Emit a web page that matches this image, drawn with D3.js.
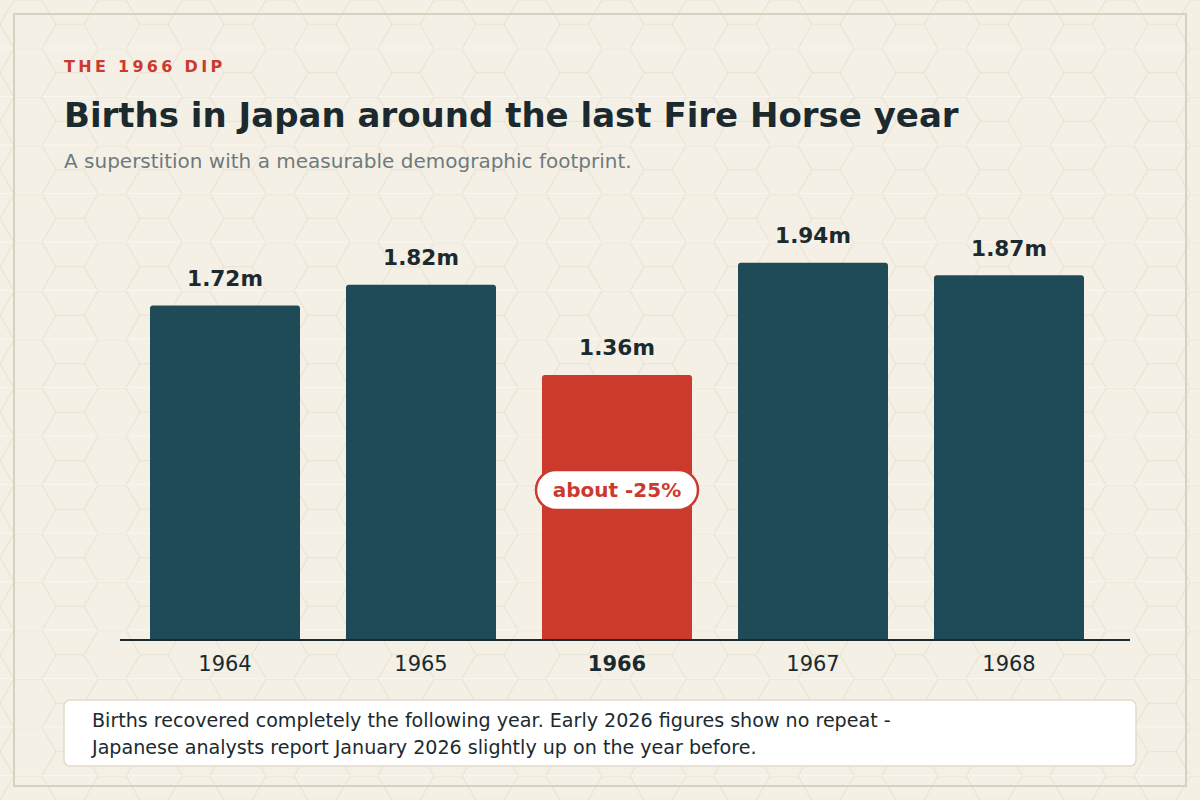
<!DOCTYPE html>
<html><head><meta charset="utf-8">
<script src="https://cdn.jsdelivr.net/npm/d3@7"></script>
<style>
html,body{margin:0;padding:0;background:#f5f0e6;}
svg{display:block;font-family:"DejaVu Sans",sans-serif;}
</style></head>
<body>
<svg id="c" width="1200" height="800"></svg>
<script>
const years = ["1964","1965","1966","1967","1968"];
const births = [1.717, 1.824, 1.361, 1.936, 1.872];
const highlightYear = "1966";
const kicker = "THE 1966 DIP";
const title = "Births in Japan around the last Fire Horse year";
const subtitle = "A superstition with a measurable demographic footprint.";
const annotation = "about -25%";
const noteLines = ["Births recovered completely the following year. Early 2026 figures show no repeat -",
  "Japanese analysts report January 2026 slightly up on the year before."];

const svg = d3.select("#c");
const W = 1200, H = 800;
const ink = "#1b2a2f", teal = "#1f4a57", red = "#cc3a2e";

// background pattern
const defs = svg.append("defs");
const s = 28, h = Math.sqrt(3) * s;
const pat = defs.append("pattern").attr("id","hex").attr("patternUnits","userSpaceOnUse")
  .attr("width", 3*s).attr("height", h);
pat.append("rect").attr("width",3*s).attr("height",h).attr("fill","#f5f0e6");
pat.append("path")
  .attr("d", `M0,${h/2} L${s/2},0 L${1.5*s},0 L${2*s},${h/2} L${1.5*s},${h} L${s/2},${h} Z M${2*s},${h/2} L${3*s},${h/2}`)
  .attr("fill","none").attr("stroke","#e9e2d3").attr("stroke-width",1);
pat.append("line").attr("x1",0).attr("x2",3*s).attr("y1",h).attr("y2",h)
  .attr("stroke","#ffffff").attr("stroke-opacity",0.8).attr("stroke-width",1.2);
svg.append("rect").attr("width",W).attr("height",H).attr("fill","url(#hex)");

// frame
svg.append("rect").attr("x",14).attr("y",14).attr("width",1172).attr("height",772)
  .attr("fill","none").attr("stroke","#d9d1bf").attr("stroke-width",2);

// header
svg.append("text").attr("x",64).attr("y",72).text(kicker)
  .attr("fill",red).attr("font-size",16).attr("font-weight","bold").attr("letter-spacing",3.3);
svg.append("text").attr("x",64).attr("y",127).text(title)
  .attr("fill",ink).attr("font-size",34).attr("font-weight","bold");
svg.append("text").attr("x",64).attr("y",168).text(subtitle)
  .attr("fill","#6f7a7d").attr("font-size",20);

// scales
const x = d3.scaleBand().domain(years).range([127,1107])
  .paddingInner(46/196).paddingOuter(23/196);
const y = d3.scaleLinear().domain([0,2]).range([640,250.4]);

const data = years.map((yr,i)=>({year:yr, v:births[i]}));
const r = 3;
function barPath(d){
  const x0 = x(d.year), x1 = x0 + x.bandwidth(), y0 = y(d.v), yb = y(0);
  return `M${x0},${yb} L${x0},${y0+r} Q${x0},${y0} ${x0+r},${y0} L${x1-r},${y0} Q${x1},${y0} ${x1},${y0+r} L${x1},${yb} Z`;
}
svg.append("g").selectAll("path").data(data).join("path")
  .attr("d", barPath)
  .attr("fill", d => d.year===highlightYear ? red : teal);

svg.append("g").selectAll("text").data(data).join("text")
  .attr("x", d => x(d.year)+x.bandwidth()/2)
  .attr("y", d => y(d.v)-19.5)
  .attr("text-anchor","middle").attr("font-size",21.6).attr("font-weight","bold").attr("fill",ink)
  .text(d => d3.format(".2f")(d.v)+"m");

// axis
const axis = svg.append("g").attr("transform","translate(0,640)")
  .call(d3.axisBottom(x).tickSize(0).tickPadding(16.5));
axis.select(".domain").remove();
axis.append("line").attr("x1",120).attr("x2",1130).attr("stroke",ink).attr("stroke-width",2);
axis.selectAll(".tick text")
  .attr("font-family","DejaVu Sans, sans-serif").attr("font-size",21).attr("fill",ink)
  .attr("font-weight", d => d===highlightYear ? "bold" : "normal")
  .attr("dy","0.71em");

// annotation pill
const hx = x(highlightYear) + x.bandwidth()/2, hy = 490;
svg.append("rect").attr("x",hx-81).attr("y",hy-20).attr("width",162).attr("height",40).attr("rx",20)
  .attr("fill","#ffffff").attr("stroke",red).attr("stroke-width",2.5);
svg.append("text").attr("x",hx).attr("y",hy+7).attr("text-anchor","middle")
  .attr("font-size",20).attr("font-weight","bold").attr("fill",red).text(annotation);

// note box
svg.append("rect").attr("x",64).attr("y",700).attr("width",1072).attr("height",66).attr("rx",6)
  .attr("fill","#ffffff").attr("stroke","#e2dacb").attr("stroke-width",1.5);
svg.append("g").selectAll("text").data(noteLines).join("text")
  .attr("x",92).attr("y",(d,i)=>727+i*27).attr("font-size",19.1).attr("fill",ink).text(d=>d);
</script>
</body></html>
